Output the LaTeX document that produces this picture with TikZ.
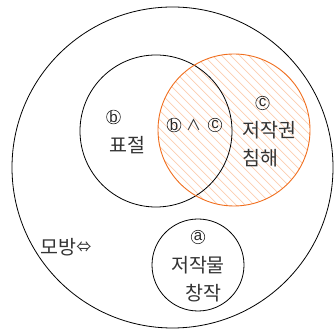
\documentclass[tikz,border=0pt]{standalone}
\usepackage{fontspec}
\setmainfont{Noto Sans CJK KR}
\newfontfamily\latinf{Liberation Sans}
\begin{document}
\begin{tikzpicture}[x=1pt,y=1pt,
  lbl/.style={inner sep=0pt,font=\fontsize{19.5}{28}\selectfont,text=black!80},
  sym/.style={inner sep=0pt,font=\fontsize{15}{20}\selectfont,text=black!80},
  circ/.style={circle,draw=black!85,line width=0.6pt,inner sep=0pt,minimum size=13.5pt,
    font=\latinf\fontsize{15}{15}\selectfont,text=black!85},
  ring/.style={draw=black,line width=0.8pt},
  hatch/.style={draw={rgb,255:red,252;green,205;blue,175},line width=0.7pt}]
\useasboundingbox (0,0) rectangle (334,331);
\coordinate (O) at (172.5,163.5);
\coordinate (B) at (156,200);
\coordinate (C) at (234,201);
\coordinate (A) at (198,66);
% hatching
\begin{scope}
  \clip (C) circle (76);
  \foreach \c in {200,209,...,600} {
    \draw[hatch] (\c-400,400) -- (\c+100,-100);
  }
\end{scope}
\draw[ring] (O) circle (160.5);
\draw[ring] (B) circle (76);
\draw[draw={rgb,255:red,240;green,110;blue,30},line width=0.9pt] (C) circle (76);
\draw[ring] (A) circle (46);
% labels
\node[circ] (bl) at (113.5,214) {b};
\node[lbl] (pj) at (127,186) {표절};
\node[circ] (bc1) at (174,206) {b};
\node[sym] (and) at (193.5,206) {∧};
\node[circ] (bc2) at (215,206) {c};
\node[circ] (cl) at (262.5,228) {c};
\node[lbl,anchor=west] (jj) at (242,201) {저작권};
\node[lbl,anchor=west] (ch) at (242,173) {침해};
\node[lbl,anchor=west] (mb) at (40,84) {모방};
\node[sym,anchor=west] (eq) at (mb.east) {⇔};
\node[circ] (al) at (198,94) {a};
\node[lbl] (jm) at (198,66) {저작물};
\node[lbl] (cj) at (203,38) {창작};
\end{tikzpicture}
\end{document}
